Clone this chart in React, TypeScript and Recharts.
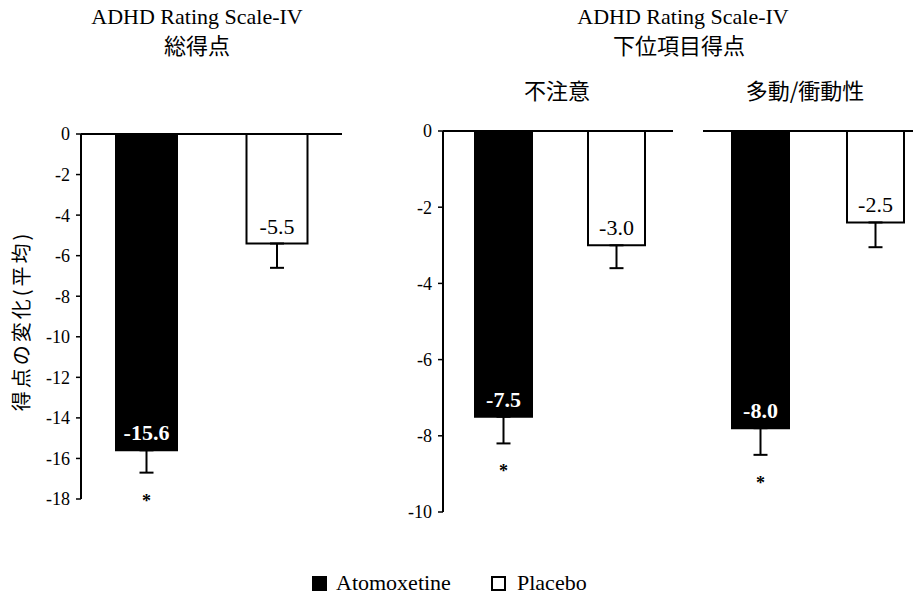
import React from "react";
import { BarChart, Bar, XAxis, YAxis, Cell, ErrorBar, LabelList, ReferenceLine } from "recharts";

// groups shown in every panel
const groups = ["Atomoxetine", "Placebo"];
const significant = [true, false];

// 総得点
const totalValues = [-15.6, -5.4];
const totalErrors = [1.1, 1.2];
const totalLabels = ["-15.6", "-5.5"];
const totalTicks = [0, -2, -4, -6, -8, -10, -12, -14, -16, -18];

// 下位項目得点: 不注意
const inattentionValues = [-7.5, -3.0];
const inattentionErrors = [0.7, 0.6];
const inattentionLabels = ["-7.5", "-3.0"];

// 下位項目得点: 多動/衝動性
const hyperValues = [-7.8, -2.4];
const hyperErrors = [0.7, 0.65];
const hyperLabels = ["-8.0", "-2.5"];

const subTicks = [0, -2, -4, -6, -8, -10];

const SERIF = "Liberation Serif, serif";
const CJK = "Noto Sans CJK JP, sans-serif";

const buildRows = (values: number[], errors: number[], labels: string[]) =>
  groups.map((g, i) => ({ name: g, value: values[i], err: [errors[i], 0], label: labels[i], sig: significant[i] }));

const Panel = ({ rows, domain, ticks, showAxis, width, height, margin, barSize, padLeft = 0 }: any) => {
  const renderValue = (p: any) => {
    const { x, y, width: w, height: h, index } = p;
    const bottom = Math.max(y, y + h);
    const dark = index === 0;
    return (
      <text
        x={x + w / 2}
        y={bottom - 10}
        textAnchor="middle"
        fill={dark ? "#fff" : "#000"}
        fontWeight={dark ? "bold" : "normal"}
        fontSize={22}
        style={{ fontFamily: SERIF }}
      >
        {rows[index].label}
      </text>
    );
  };

  const renderStar = (p: any) => {
    const { x, y, width: w, height: h, index, value } = p;
    if (!rows[index].sig) return null;
    const bottom = Math.max(y, y + h);
    const perUnit = Math.abs(h / value);
    const errEnd = bottom + rows[index].err[0] * perUnit;
    return (
      <text x={x + w / 2} y={errEnd + 34} textAnchor="middle" fontSize={18} fontWeight="bold" style={{ fontFamily: SERIF }} fill="#000">
        *
      </text>
    );
  };

  return (
    <BarChart width={width} height={height} data={rows} margin={margin} style={{ fontFamily: SERIF }}>
      <XAxis dataKey="name" hide padding={{ left: padLeft, right: 0 }} />
      <YAxis
        hide={!showAxis}
        width={showAxis ? 60 : 0}
        domain={domain}
        ticks={ticks}
        interval={0}
        tickSize={5}
        tickMargin={6}
        axisLine={{ stroke: "#000", strokeWidth: 2 }}
        tickLine={{ stroke: "#000", strokeWidth: 1.5 }}
        tick={{ fill: "#000", fontSize: 18, style: { fontFamily: SERIF } }}
      />
      <ReferenceLine y={0} stroke="#000" strokeWidth={2} />
      <Bar dataKey="value" barSize={barSize} stroke="#000" strokeWidth={2} isAnimationActive={false}>
        {rows.map((r: any, i: number) => (
          <Cell key={r.name} fill={i === 0 ? "#000" : "#fff"} />
        ))}
        <ErrorBar dataKey="err" width={7} stroke="#000" strokeWidth={2} direction="y" />
        <LabelList dataKey="value" content={renderValue} />
        <LabelList dataKey="value" content={renderStar} />
      </Bar>
    </BarChart>
  );
};

export default function App() {
  return (
    <div
      style={{
        position: "absolute",
        left: 0,
        top: 0,
        width: 913,
        height: 598,
        overflow: "hidden",
        background: "#fff",
        fontFamily: SERIF,
      }}
    >
      <div style={{ position: "absolute", left: 0, top: 0 }}>
        <Panel
          rows={buildRows(totalValues, totalErrors, totalLabels)}
          domain={[-18, 0]}
          ticks={totalTicks}
          showAxis
          width={360}
          height={520}
          margin={{ top: 134, right: 18, bottom: 21, left: 21 }}
          barSize={61}
        />
      </div>
      <div style={{ position: "absolute", left: 380, top: 0 }}>
        <Panel
          rows={buildRows(inattentionValues, inattentionErrors, inattentionLabels)}
          domain={[-10, 0]}
          ticks={subTicks}
          showAxis
          width={300}
          height={540}
          margin={{ top: 131, right: 7, bottom: 28, left: 3 }}
          barSize={57}
          padLeft={4}
        />
      </div>
      <div style={{ position: "absolute", left: 690, top: 0 }}>
        <Panel
          rows={buildRows(hyperValues, hyperErrors, hyperLabels)}
          domain={[-10, 0]}
          ticks={subTicks}
          showAxis={false}
          width={260}
          height={540}
          margin={{ top: 131, right: 17, bottom: 28, left: 13 }}
          barSize={57}
        />
      </div>
      <svg width={913} height={598} style={{ position: "absolute", left: 0, top: 0, pointerEvents: "none" }}>
        <text x={197} y={24} textAnchor="middle" fontSize={22} style={{ fontFamily: SERIF }} fill="#000">
          ADHD Rating Scale-IV
        </text>
        <text x={197} y={54} textAnchor="middle" fontSize={22} style={{ fontFamily: CJK }} fill="#000">
          総得点
        </text>
        <text x={683} y={24} textAnchor="middle" fontSize={22} style={{ fontFamily: SERIF }} fill="#000">
          ADHD Rating Scale-IV
        </text>
        <text x={679} y={54} textAnchor="middle" fontSize={22} style={{ fontFamily: CJK }} fill="#000">
          下位項目得点
        </text>
        <text x={557} y={99} textAnchor="middle" fontSize={22} style={{ fontFamily: CJK }} fill="#000">
          不注意
        </text>
        <text x={805} y={99} textAnchor="middle" fontSize={22} style={{ fontFamily: CJK }} fill="#000">
          多動/衝動性
        </text>
        <text
          x={20}
          y={321}
          transform="rotate(-90 20 321)"
          textAnchor="middle"
          dominantBaseline="central"
          fontSize={20}
          letterSpacing={3}
          style={{ fontFamily: CJK }}
          fill="#000"
        >
          得点の変化(平均)
        </text>
        <rect x={312} y={576} width={15} height={15} fill="#000" />
        <text x={336} y={590} fontSize={22} style={{ fontFamily: SERIF }} fill="#000">
          Atomoxetine
        </text>
        <rect x={492} y={577} width={13} height={13} fill="#fff" stroke="#000" strokeWidth={2} />
        <text x={517} y={590} fontSize={22} style={{ fontFamily: SERIF }} fill="#000">
          Placebo
        </text>
      </svg>
    </div>
  );
}
